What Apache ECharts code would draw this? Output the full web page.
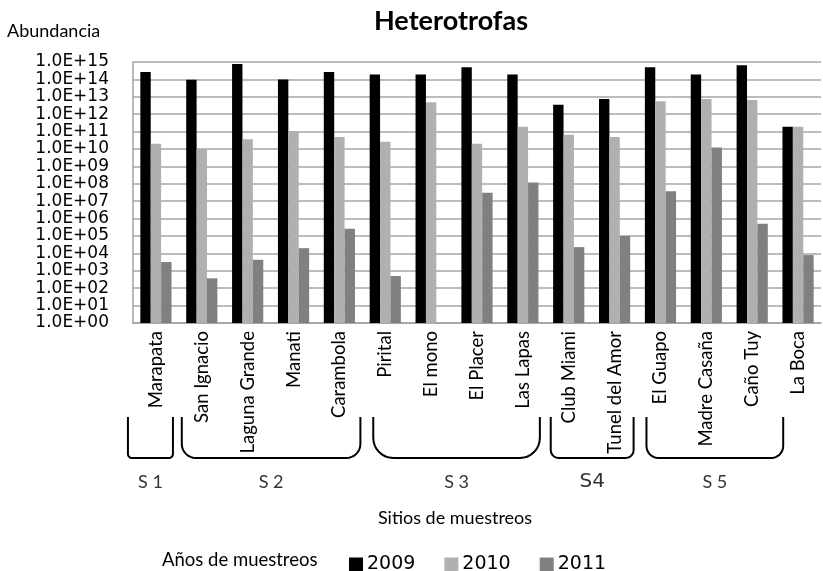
<!DOCTYPE html>
<html>
<head>
<meta charset="utf-8">
<script src="https://cdn.jsdelivr.net/npm/echarts@6/dist/echarts.min.js"></script>
<style>
  html, body { margin: 0; padding: 0; background: #fff; }
  #chart { width: 823px; height: 571px; }
</style>
</head>
<body>
<div id="chart"></div>
<script>
// Sampling sites along the x axis
const sites = [
  'Marapata', 'San Ignacio', 'Laguna Grande', 'Manati', 'Carambola',
  'Pirital', 'El mono', 'El Placer', 'Las Lapas', 'Club Miami',
  'Tunel del Amor', 'El Guapo', 'Madre Casaña', 'Caño Tuy', 'La Boca'
];

// Sampling years (one bar series each)
const years = ['2009', '2010', '2011'];

// Heterotroph abundance per site and year
const values2009 = [2.7e14, 9.5e13, 7.7e14, 1.0e14, 2.7e14, 1.9e14, 1.9e14, 5.0e14, 1.9e14, 3.5e12, 7.5e12, 5.0e14, 1.9e14, 6.5e14, 1.9e11];
const values2010 = [2.0e10, 1.0e10, 3.6e10, 1.1e11, 4.9e10, 2.6e10, 4.8e12, 2.0e10, 1.9e11, 6.6e10, 4.9e10, 5.5e12, 7.5e12, 6.6e12, 1.9e11];
const values2011 = [3.2e3, 3.7e2, 4.3e3, 2.0e4, 2.6e5, 5.0e2, null, 3.1e7, 1.2e8, 2.3e4, 1.0e5, 3.7e7, 1.2e10, 5.1e5, 8.0e3];

// Site groups: label, first and last site index
const groupLabels = ['S 1', 'S 2', 'S 3', 'S4', 'S 5'];
const groupFirst = [0, 1, 5, 9, 11];
const groupLast = [0, 4, 8, 10, 13];

// Y-axis exponent range (powers of ten)
const expMin = 0;
const expMax = 15;

// Bracket drawing style per group: left pad, right pad, corner radius, label font
const bracketStyle = [
  { padL: 28, padR: 17, r: 4, font: 'Lato', size: 18 },
  { padL: 20, padR: 21, r: 14, font: 'Lato', size: 18 },
  { padL: 12, padR: 17, r: 20, font: 'Lato', size: 18 },
  { padL: 18, padR: 19, r: 8, font: 'DejaVu Sans', size: 20 },
  { padL: 14, padR: 31, r: 12, font: 'Lato', size: 18 }
];

const seriesValues = [values2009, values2010, values2011];
const seriesColors = ['#000000', '#b0b0b0', '#808080'];

const chart = echarts.init(document.getElementById('chart'), null, { renderer: 'canvas' });

const option = {
  backgroundColor: '#ffffff',
  animation: false,
  title: {
    text: 'Heterotrofas',
    left: 446,
    top: 3,
    textAlign: 'center',
    textStyle: { fontFamily: 'Lato', fontWeight: 'bold', fontSize: 27, color: '#000' }
  },
  legend: {
    data: years,
    left: 344,
    top: 550,
    itemWidth: 14,
    itemHeight: 14,
    itemGap: 29,
    icon: 'rect',
    textStyle: { fontFamily: 'DejaVu Sans', fontSize: 19, color: '#000', padding: [0, 0, 0, -1] }
  },
  grid: { left: 133, top: 62, right: 2, bottom: 248, containLabel: false },
  xAxis: {
    type: 'category',
    data: sites,
    axisLine: { lineStyle: { color: '#a0a0a0', width: 1.5 } },
    axisTick: { show: false },
    axisLabel: {
      rotate: 90,
      interval: 0,
      margin: 8,
      fontFamily: 'Lato',
      fontSize: 18.5,
      color: '#000'
    }
  },
  yAxis: {
    type: 'log',
    logBase: 10,
    min: Math.pow(10, expMin),
    max: Math.pow(10, expMax),
    interval: 1,
    axisLine: { show: true, lineStyle: { color: '#a0a0a0', width: 1.5 } },
    axisTick: { show: false },
    splitLine: { showMinLine: true, showMaxLine: true, lineStyle: { color: '#a6a6a6', width: 1.5 } },
    axisLabel: {
      showMinLabel: true,
      showMaxLabel: true,
      hideOverlap: false,
      margin: 24,
      fontFamily: 'DejaVu Sans',
      fontSize: 17,
      lineHeight: 17,
      color: '#000',
      formatter: function (v) {
        const e = Math.round(Math.log10(v));
        return '1.0E+' + String(e).padStart(2, '0');
      }
    }
  },
  series: years.map(function (y, i) {
    return {
      name: y,
      type: 'bar',
      data: seriesValues[i],
      barGap: '0%',
      barCategoryGap: '32%',
      itemStyle: { color: seriesColors[i] }
    };
  }),
  graphic: [
    {
      type: 'text',
      left: 7,
      top: 22,
      style: { text: 'Abundancia', fontFamily: 'Lato', fontSize: 18, fill: '#000' }
    },
    {
      type: 'text',
      x: 455,
      y: 518,
      style: { text: 'Sitios de muestreos', fontFamily: 'Lato', fontSize: 18, fill: '#000', align: 'center', verticalAlign: 'middle' }
    },
    {
      type: 'text',
      x: 162,
      y: 560,
      style: { text: 'Años de muestreos', fontFamily: 'Lato', fontSize: 18.5, fill: '#000', verticalAlign: 'middle' }
    }
  ]
};

chart.setOption(option);

// Bracket outline: two uprights joined by a base with rounded corners
function bracketPoints(xl, xr, top, bottom, r) {
  const pts = [[xl, top], [xl, bottom - r]];
  const steps = 8;
  for (let k = 1; k <= steps; k++) {
    const a = Math.PI - (Math.PI / 2) * (k / steps);
    pts.push([xl + r + r * Math.cos(a), bottom - r + r * Math.sin(a)]);
  }
  pts.push([xr - r, bottom]);
  for (let k = 1; k <= steps; k++) {
    const a = Math.PI / 2 - (Math.PI / 2) * (k / steps);
    pts.push([xr - r + r * Math.cos(a), bottom - r + r * Math.sin(a)]);
  }
  pts.push([xr, top]);
  return pts;
}

// Group brackets under the site labels, positioned from the category axis
const bracketTop = 417;
const bracketBottom = 458;
const groupGraphics = [];
groupLabels.forEach(function (label, g) {
  const st = bracketStyle[g];
  const xl = chart.convertToPixel({ xAxisIndex: 0 }, groupFirst[g]) - st.padL;
  const xr = chart.convertToPixel({ xAxisIndex: 0 }, groupLast[g]) + st.padR;
  groupGraphics.push({
    type: 'polyline',
    shape: { points: bracketPoints(xl, xr, bracketTop, bracketBottom, st.r) },
    style: { fill: null, stroke: '#000', lineWidth: 2 }
  });
  groupGraphics.push({
    type: 'text',
    x: (xl + xr) / 2,
    y: 482,
    style: {
      text: label,
      fontFamily: st.font,
      fontSize: st.size,
      fill: '#333',
      align: 'center',
      verticalAlign: 'middle'
    }
  });
});

chart.setOption({ graphic: option.graphic.concat(groupGraphics) });
</script>
</body>
</html>
